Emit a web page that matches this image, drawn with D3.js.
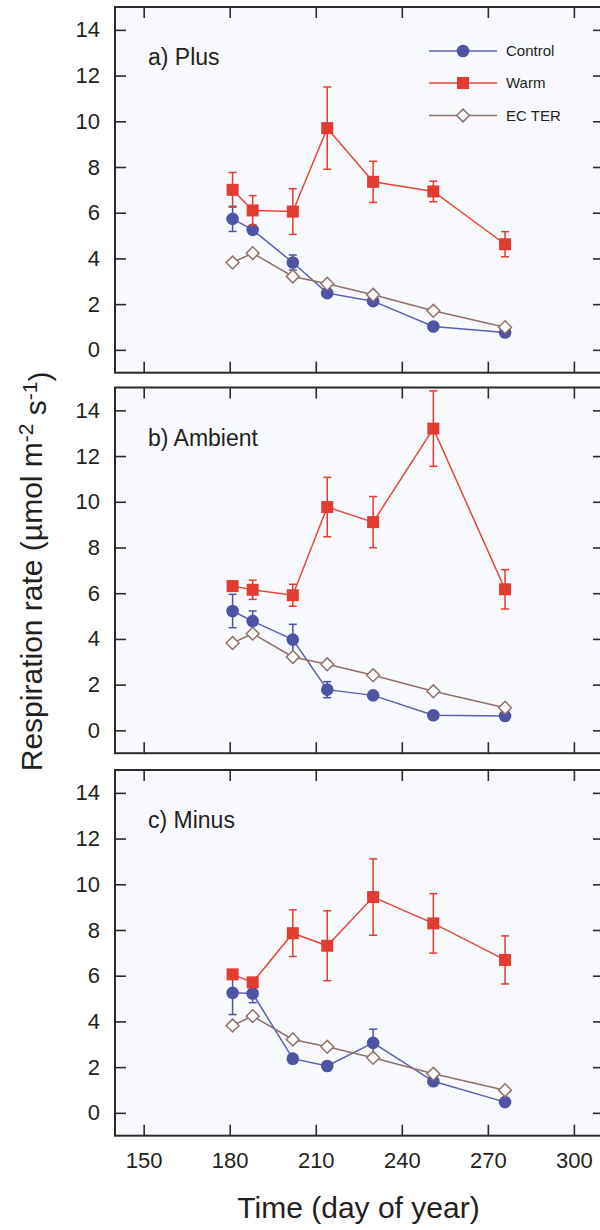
<!DOCTYPE html>
<html>
<head>
<meta charset="utf-8">
<script src="https://cdn.jsdelivr.net/npm/d3@7/dist/d3.min.js"></script>
<style>
  html, body { margin: 0; padding: 0; background: #ffffff; }
  svg { display: block; }
  text { font-family: "Liberation Sans", Arial, Helvetica, sans-serif; fill: #231f20; }
</style>
</head>
<body>
<svg id="chart" width="600" height="1230"></svg>
<script>
// Sampling days (day of year)
const days = [181, 188, 202, 214, 230, 251, 276];

// Eddy-covariance total ecosystem respiration (same in every panel)
const ecTer = [3.82, 4.23, 3.21, 2.89, 2.41, 1.71, 0.99];

// a) Plus
const plusControl    = [5.73, 5.25, 3.82, 2.48, 2.13, 1.02, 0.76];
const plusControlErr = [0.55, 0.12, 0.33, 0.10, 0.10, 0.08, 0.08];
const plusWarm       = [7.00, 6.10, 6.05, 9.70, 7.35, 6.93, 4.62];
const plusWarmErr    = [0.76, 0.65, 1.00, 1.80, 0.90, 0.45, 0.55];

// b) Ambient
const ambientControl    = [5.22, 4.78, 3.97, 1.78, 1.53, 0.66, 0.63];
const ambientControlErr = [0.73, 0.44, 0.67, 0.35, 0.10, 0.08, 0.08];
const ambientWarm       = [6.31, 6.15, 5.91, 9.77, 9.11, 13.20, 6.17];
const ambientWarmErr    = [0.20, 0.42, 0.48, 1.30, 1.12, 1.65, 0.86];

// c) Minus
const minusControl    = [5.25, 5.22, 2.37, 2.05, 3.06, 1.38, 0.47];
const minusControlErr = [0.95, 0.40, 0.10, 0.10, 0.60, 0.10, 0.08];
const minusWarm       = [6.06, 5.71, 7.86, 7.31, 9.44, 8.29, 6.69];
const minusWarmErr    = [0.20, 0.15, 1.02, 1.53, 1.67, 1.30, 1.05];

const panelNames = ["a) Plus", "b) Ambient", "c) Minus"];
const xTicks = [150, 180, 210, 240, 270, 300];
const yTicks = [0, 2, 4, 6, 8, 10, 12, 14];
const seriesNames = ["Control", "Warm", "EC TER"];

const panels = [
  { name: panelNames[0], control: plusControl, controlErr: plusControlErr, warm: plusWarm, warmErr: plusWarmErr },
  { name: panelNames[1], control: ambientControl, controlErr: ambientControlErr, warm: ambientWarm, warmErr: ambientWarmErr },
  { name: panelNames[2], control: minusControl, controlErr: minusControlErr, warm: minusWarm, warmErr: minusWarmErr }
];

const colors = {
  control: "#4f53a6", controlLine: "#5a5fb3",
  warm: "#e23b30", warmLine: "#e6473c",
  ter: "#8e7169"
};
const ink = "#2b2b2b";
const plotBg = "#f8f9fd";

const svg = d3.select("#chart");

const left = 115, right = 604;
const panelTops = [7, 387.5, 770];
const panelH = 365.7;

const x = d3.scaleLinear().domain([140, 310.5]).range([left, right]);

const symCircle = d3.symbol().type(d3.symbolCircle).size(Math.PI * 6.3 * 6.3);
const symSquare = d3.symbol().type(d3.symbolSquare).size(12 * 12);

function diamondPath(r) {
  return `M0,${-r}L${r},0L0,${r}L${-r},0Z`;
}

panels.forEach((p, i) => {
  const top = panelTops[i];
  const bottom = top + panelH;
  const y = d3.scaleLinear().domain([-1, 15]).range([bottom, top]);
  const g = svg.append("g");

  // Plot background
  g.append("rect")
    .attr("x", left).attr("y", top)
    .attr("width", right - left).attr("height", panelH)
    .attr("fill", plotBg);

  // Axes with inward ticks on all four sides
  const axL = d3.axisLeft(y).tickValues(yTicks).tickSizeInner(-11).tickSizeOuter(0).tickPadding(15);
  const axR = d3.axisRight(y).tickValues(yTicks).tickSizeInner(-11).tickSizeOuter(0).tickFormat("");
  const axT = d3.axisTop(x).tickValues(xTicks).tickSizeInner(-11).tickSizeOuter(0).tickFormat("");
  const axB = d3.axisBottom(x).tickValues(xTicks).tickSizeInner(-11).tickSizeOuter(0).tickPadding(17);
  if (i < 2) axB.tickFormat("");

  function styleAxis(sel) {
    sel.select(".domain").remove();
    sel.selectAll(".tick line").attr("stroke", ink).attr("stroke-width", 1.6);
    sel.selectAll(".tick text")
      .attr("fill", "#231f20")
      .style("font-size", "22px")
      .style("font-family", '"Liberation Sans", Arial, Helvetica, sans-serif');
  }
  g.append("g").attr("transform", `translate(${left},0)`).call(axL).call(styleAxis);
  g.append("g").attr("transform", `translate(${right},0)`).call(axR).call(styleAxis);
  g.append("g").attr("transform", `translate(0,${top})`).call(axT).call(styleAxis);
  g.append("g").attr("transform", `translate(0,${bottom})`).call(axB).call(styleAxis);

  // Frame
  g.append("rect")
    .attr("x", left).attr("y", top)
    .attr("width", right - left).attr("height", panelH)
    .attr("fill", "none").attr("stroke", ink).attr("stroke-width", 2);

  // Panel label
  g.append("text")
    .attr("x", 148).attr("y", top + 58)
    .style("font-size", "23px")
    .text(p.name);

  const line = d3.line().x((d, k) => x(days[k])).y(d => y(d));

  // Error bars
  function errorBars(vals, errs, color) {
    const eb = g.append("g").attr("stroke", color).attr("stroke-width", 1.5).attr("fill", "none");
    vals.forEach((v, k) => {
      const cx = x(days[k]);
      const y0 = y(v - errs[k]), y1 = y(v + errs[k]);
      eb.append("line").attr("x1", cx).attr("x2", cx).attr("y1", y0).attr("y2", y1);
      eb.append("line").attr("x1", cx - 4).attr("x2", cx + 4).attr("y1", y0).attr("y2", y0);
      eb.append("line").attr("x1", cx - 4).attr("x2", cx + 4).attr("y1", y1).attr("y2", y1);
    });
  }

  // Control series
  g.append("path").datum(p.control).attr("d", line)
    .attr("fill", "none").attr("stroke", colors.controlLine).attr("stroke-width", 1.5);
  errorBars(p.control, p.controlErr, colors.control);
  g.append("g").selectAll("path").data(p.control).join("path")
    .attr("transform", (d, k) => `translate(${x(days[k])},${y(d)})`)
    .attr("d", symCircle).attr("fill", colors.control);

  // EC TER series
  g.append("path").datum(ecTer).attr("d", line)
    .attr("fill", "none").attr("stroke", colors.ter).attr("stroke-width", 1.5);
  g.append("g").selectAll("path").data(ecTer).join("path")
    .attr("transform", (d, k) => `translate(${x(days[k])},${y(d)})`)
    .attr("d", diamondPath(6.4)).attr("fill", "#ffffff")
    .attr("stroke", colors.ter).attr("stroke-width", 1.5);

  // Warm series
  g.append("path").datum(p.warm).attr("d", line)
    .attr("fill", "none").attr("stroke", colors.warmLine).attr("stroke-width", 1.5);
  errorBars(p.warm, p.warmErr, colors.warm);
  g.append("g").selectAll("path").data(p.warm).join("path")
    .attr("transform", (d, k) => `translate(${x(days[k])},${y(d)})`)
    .attr("d", symSquare).attr("fill", colors.warm);

  // Legend in the first panel
  if (i === 0) {
    const lg = g.append("g");
    const rows = [51, 83, 115.5];
    const lineCols = [colors.controlLine, colors.warmLine, colors.ter];
    rows.forEach((ry, k) => {
      lg.append("line").attr("x1", 429).attr("x2", 497).attr("y1", ry).attr("y2", ry)
        .attr("stroke", lineCols[k]).attr("stroke-width", 1.5);
      const m = lg.append("path").attr("transform", `translate(463,${ry})`);
      if (k === 0) m.attr("d", symCircle).attr("fill", colors.control);
      if (k === 1) m.attr("d", symSquare).attr("fill", colors.warm);
      if (k === 2) m.attr("d", diamondPath(6.4)).attr("fill", "#ffffff")
        .attr("stroke", colors.ter).attr("stroke-width", 1.5);
      lg.append("text").attr("x", 506).attr("y", ry).attr("dy", "0.36em")
        .style("font-size", "15px").text(seriesNames[k]);
    });
  }
});

// Axis titles
svg.append("text")
  .attr("x", (left + right) / 2 - 1).attr("y", 1218)
  .attr("text-anchor", "middle")
  .style("font-size", "30px")
  .text("Time (day of year)");

const yTitle = svg.append("text")
  .attr("transform", `translate(42,${(panelTops[0] + panelTops[2] + panelH) / 2}) rotate(-90)`)
  .attr("text-anchor", "middle")
  .style("font-size", "30px");
yTitle.append("tspan").text("Respiration rate (\u00b5mol m");
yTitle.append("tspan").attr("dy", "-0.45em").style("font-size", "21px").text("-2");
yTitle.append("tspan").attr("dy", "0.45em").text(" s");
yTitle.append("tspan").attr("dy", "-0.45em").style("font-size", "21px").text("-1");
yTitle.append("tspan").attr("dy", "0.45em").text(")");
</script>
</body>
</html>
